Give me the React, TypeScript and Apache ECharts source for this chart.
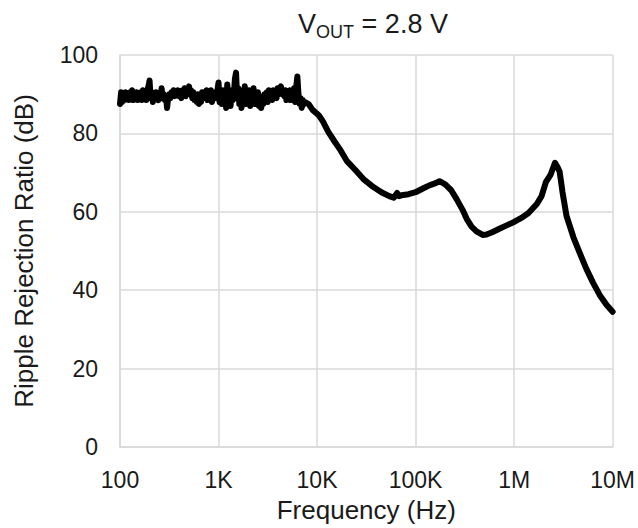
import React, { useEffect, useRef } from "react";
import * as echarts from "echarts";

// 100 Hz – 1 kHz (noisy plateau)
const freqLow: number[] = [
  100, 102.6, 105.2, 108, 110.8, 113.6, 116.6, 119.6, 122.7, 125.9,
  129.2, 132.5, 135.9, 139.5, 143.1, 146.8, 150.6, 154.5, 158.5, 162.6,
  166.8, 171.1, 175.6, 180.1, 184.8, 189.6, 194.5, 199.5, 204.7, 210,
  215.4, 221, 226.7, 232.6, 238.7, 244.9, 251.2, 257.7, 264.4, 271.3,
  278.3, 285.5, 292.9, 300.5, 308.3, 316.2, 324.4, 332.8, 341.5, 350.3,
  359.4, 368.7, 378.3, 388.1, 398.1, 408.4, 419, 429.9, 441.1, 452.5,
  464.2, 476.3, 488.6, 501.2, 514.2, 527.6, 541.3, 555.3, 569.7, 584.5,
  599.7, 615.2, 631.2, 647.5, 664.3, 681.5, 699.2, 717.3, 735.9, 755,
  774.6, 794.7, 815.3, 836.5, 858.2, 880.5, 903.3, 926.8, 950.8, 975.5,
  1000,
];
const dbLow: number[] = [
  87.5, 90.5, 88, 90, 88.5, 90.5, 89, 90, 88.5, 90.5,
  89, 91, 88.5, 90, 89.5, 90.5, 88.5, 90, 89, 90.5,
  88.5, 91, 89, 90, 88.5, 91, 92, 93.5, 89, 90.5,
  88, 90, 89, 90.5, 89.5, 88.5, 90, 89, 91.5, 89,
  90, 88.5, 89.5, 86.5, 89, 90, 89, 90.5, 89.5, 91,
  89.5, 90.5, 90, 91, 89.5, 90.5, 89, 91, 90, 91.5,
  89.5, 91, 90, 92, 90.5, 91, 89, 90.5, 88.5, 89.5,
  88, 90, 87.5, 89.5, 88, 90.5, 89, 90.5, 89, 91,
  88.5, 90.5, 89, 91, 88, 90, 89, 90.5, 89, 91,
  93,
];

// 1 kHz – 7.5 kHz (noisy plateau)
const freqMid: number[] = [
  1026, 1052, 1080, 1108, 1136, 1166, 1196, 1227, 1259, 1292,
  1325, 1359, 1395, 1431, 1468, 1506, 1545, 1585, 1626, 1668,
  1711, 1756, 1801, 1848, 1896, 1945, 1995, 2047, 2100, 2154,
  2210, 2267, 2326, 2387, 2449, 2512, 2577, 2644, 2713, 2783,
  2855, 2929, 3005, 3083, 3162, 3244, 3328, 3415, 3503, 3594,
  3687, 3783, 3881, 3981, 4084, 4190, 4299, 4411, 4525, 4642,
  4763, 4886, 5012, 5142, 5276, 5413, 5553, 5697, 5845, 5997,
  6152, 6312, 6475, 6643, 6815, 6992, 7173, 7359, 7550,
];
const dbMid: number[] = [
  88, 90.5, 87.5, 91, 88.5, 90, 86.5, 92.5, 88, 90.5,
  87, 91, 88.5, 90, 94, 95.5, 89, 91.5, 87.5, 90,
  86.5, 91, 88, 92, 87.5, 90.5, 88, 91, 87, 90,
  88.5, 91.5, 87.5, 89.5, 88, 90.5, 87, 89.5, 86.5, 89,
  87.5, 90, 88.5, 90.5, 88, 91, 89, 90.5, 88.5, 91,
  89.5, 90.5, 89, 91.5, 90, 91, 92, 90, 91, 89.5,
  91, 88.5, 90.5, 89, 91, 88.5, 90.5, 89, 91.5, 88,
  92, 94.5, 90, 87.5, 89, 86.5, 88.5, 87.5, 88,
];

// 8 kHz – 10 MHz (roll-off and resonances)
const freqHigh: number[] = [
  8200, 9000, 10000, 10500, 11500, 13000, 15000, 17000, 20000, 25000,
  30000, 36000, 45000, 54000, 60000, 65000, 68000, 75000, 85000, 100000,
  120000, 140000, 160000, 175000, 200000, 230000, 260000, 300000, 330000, 370000,
  415000, 480000, 525000, 600000, 700000, 850000, 1000000, 1200000, 1400000, 1700000,
  1900000, 2100000, 2350000, 2600000, 2750000, 2900000, 3100000, 3400000, 4000000, 4600000,
  5400000, 6300000, 7500000, 8700000, 10000000,
];
const dbHigh: number[] = [
  87.5, 86, 85, 84.5, 83, 80.4, 78, 76, 73, 70.4,
  68.2, 66.6, 65, 64, 63.6, 64.8, 64, 64.3, 64.5, 65,
  66, 66.8, 67.3, 67.8, 67, 65.5, 63.3, 60.5, 58.2, 56.2,
  55, 54.1, 54.2, 54.8, 55.6, 56.6, 57.4, 58.5, 59.7, 62,
  64, 67.6, 69.5, 72.5, 71.5, 70.2, 65, 59, 53.5, 49.7,
  45.5, 42, 38.5, 36.2, 34.5,
];

const xTickLabels: string[] = ["100", "1K", "10K", "100K", "1M", "10M"];
const yTicks: number[] = [0, 20, 40, 60, 80, 100];

export default function App() {
  const ref = useRef<HTMLDivElement>(null);
  useEffect(() => {
    if (!ref.current) return;
    const chart = echarts.init(ref.current, null, { renderer: "svg" });
    const font = "Liberation Sans, Arial, sans-serif";
    const textColor = "#1a1a1a";
    const gridColor = "#d9d9d9";
    const freqs = [...freqLow, ...freqMid, ...freqHigh];
    const dbs = [...dbLow, ...dbMid, ...dbHigh];
    chart.setOption({
      animation: false,
      backgroundColor: "#ffffff",
      title: {
        text: "{v|V}{s|OUT}{v| = 2.8 V}",
        left: 368,
        textAlign: "center",
        top: 2,
        textStyle: {
          fontWeight: "normal",
          rich: {
            v: { fontSize: 27, fontWeight: "normal", fontFamily: font, color: textColor, lineHeight: 34, verticalAlign: "middle" },
            s: { fontSize: 18, fontWeight: "normal", fontFamily: font, color: textColor, lineHeight: 14, verticalAlign: "bottom" },
          },
        },
      },
      grid: { left: 120, right: 23, top: 55, bottom: 81, containLabel: false },
      xAxis: {
        type: "log",
        logBase: 10,
        min: 100,
        max: 10000000,
        name: "Frequency (Hz)",
        nameLocation: "middle",
        nameGap: 50,
        nameTextStyle: { fontSize: 26, fontFamily: font, color: textColor },
        axisLine: { show: true, lineStyle: { color: gridColor, width: 1.5 } },
        axisTick: { show: false },
        minorTick: { show: false },
        splitLine: { show: true, lineStyle: { color: gridColor, width: 1.5 } },
        axisLabel: {
          fontSize: 23,
          fontFamily: font,
          color: textColor,
          margin: 21,
          formatter: (v: number) => xTickLabels[Math.round(Math.log10(v)) - 2] ?? "",
        },
      },
      yAxis: {
        type: "value",
        min: yTicks[0],
        max: yTicks[yTicks.length - 1],
        interval: 20,
        name: "Ripple Rejection Ratio (dB)",
        nameLocation: "middle",
        nameGap: 83,
        nameTextStyle: { fontSize: 26, fontFamily: font, color: textColor },
        axisLine: { show: true, lineStyle: { color: gridColor, width: 1.5 } },
        axisTick: { show: false },
        splitLine: { show: true, lineStyle: { color: gridColor, width: 1.5 } },
        axisLabel: { fontSize: 23, fontFamily: font, color: textColor, margin: 22 },
      },
      series: [
        {
          type: "line",
          data: freqs.map((f, i) => [f, dbs[i]]),
          showSymbol: false,
          symbol: "none",
          lineStyle: { color: "#000000", width: 6, join: "round", cap: "round" },
          smooth: false,
        },
      ],
    });
    return () => chart.dispose();
  }, []);
  return <div ref={ref} style={{ position: "fixed", left: 0, top: 0, width: 638, height: 528 }} />;
}
